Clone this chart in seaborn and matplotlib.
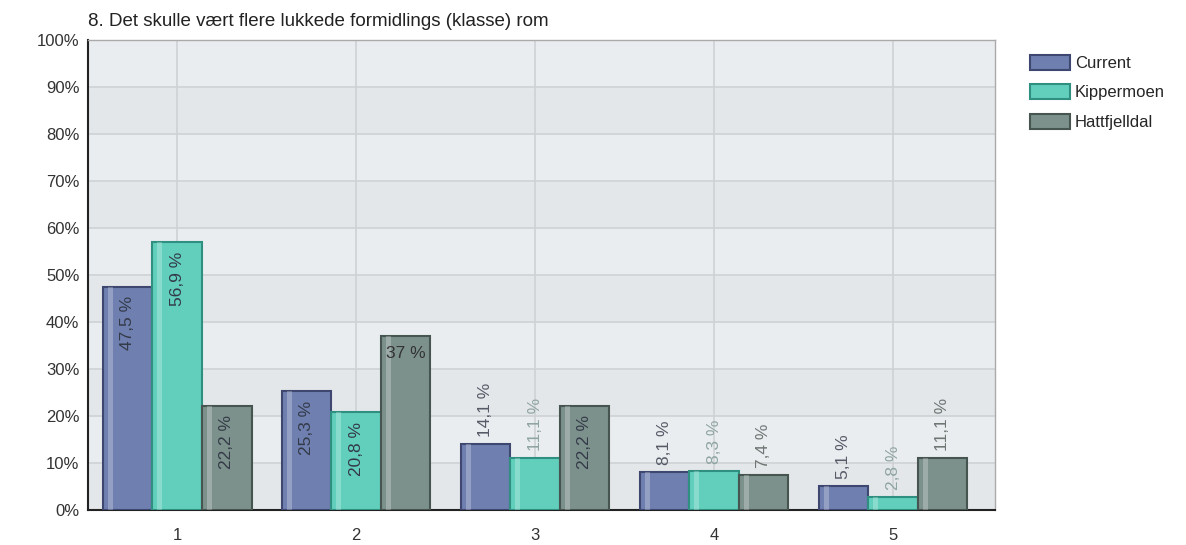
import pandas as pd
import matplotlib.pyplot as plt
import seaborn as sns

# Data
categories = ['1', '2', '3', '4', '5']
series = ['Current', 'Kippermoen', 'Hattfjelldal']
current = [47.5, 25.3, 14.1, 8.1, 5.1]
kippermoen = [56.9, 20.8, 11.1, 8.3, 2.8]
hattfjelldal = [22.2, 37.0, 22.2, 7.4, 11.1]
labels_current = ['47,5 %', '25,3 %', '14,1 %', '8,1 %', '5,1 %']
labels_kipper = ['56,9 %', '20,8 %', '11,1 %', '8,3 %', '2,8 %']
labels_hatt = ['22,2 %', '37 %', '22,2 %', '7,4 %', '11,1 %']

colors = ['#6f7fb0', '#62cfbd', '#7d918c']
edges = ['#3d4770', '#2f8f80', '#46554f']
label_colors = ['#555a66', '#8fa5a0', '#6e7673']

df = pd.DataFrame({
    'cat': categories * 3,
    'series': [s for s in series for _ in categories],
    'value': current + kippermoen + hattfjelldal,
})

sns.set_style('white')
plt.rcParams['font.family'] = ['Liberation Sans', 'DejaVu Sans']

fig = plt.figure(figsize=(11.86, 5.45), dpi=100)
ax = fig.add_axes([0.074, 0.064, 0.765, 0.863])

# banded background
ax.set_facecolor('#e4e7ea')
for i in range(10):
    if i % 2 == 1:
        ax.axhspan(i * 10, i * 10 + 10, color='#eaedf0', zorder=0)

sns.barplot(data=df, x='cat', y='value', hue='series', palette=colors,
            width=0.83, saturation=1, ax=ax, zorder=3, legend=True)

all_labels = [labels_current, labels_kipper, labels_hatt]
for k, cont in enumerate(ax.containers):
    for j, bar in enumerate(cont):
        bar.set_edgecolor(edges[k])
        bar.set_linewidth(1.5)
        # highlight stripe
        x0 = bar.get_x()
        w = bar.get_width()
        h = bar.get_height()
        ax.add_patch(plt.Rectangle((x0 + w * 0.1, 0), w * 0.1, h,
                                   color='white', alpha=0.25, lw=0, zorder=4))
        txt = all_labels[k][j]
        cx = x0 + w / 2
        if txt == '37 %':
            ax.text(cx, h - 2, txt, ha='center', va='top', fontsize=12.5,
                    color='#333333', zorder=5)
        elif h > 20:
            ax.text(cx, h - 2, txt, ha='center', va='top', rotation=90,
                    fontsize=12.5, color='#333a48', zorder=5)
        else:
            ax.text(cx, h + 1.5, txt, ha='center', va='bottom', rotation=90,
                    fontsize=12.5, color=label_colors[k], zorder=5)

ax.set_ylim(0, 100)
ax.set_xlim(-0.5, 4.57)
ax.set_yticks(range(0, 101, 10))
ax.set_yticklabels([f'{v}%' for v in range(0, 101, 10)], fontsize=12, color='#333333')
ax.tick_params(axis='x', labelsize=12, colors='#333333', length=5, width=1.5, pad=8)
ax.tick_params(axis='y', length=0, pad=6)
ax.set_xlabel('')
ax.set_ylabel('')
ax.grid(True, color='#cfd2d5', lw=1.2, zorder=1)
ax.set_axisbelow(True)

for s in ['top', 'right']:
    ax.spines[s].set_color('#aaaaaa')
    ax.spines[s].set_linewidth(1)
for s in ['left', 'bottom']:
    ax.spines[s].set_color('#222222')
    ax.spines[s].set_linewidth(1.5)

ax.text(0.0, 1.02, '8. Det skulle vært flere lukkede formidlings (klasse) rom',
        transform=ax.transAxes, fontsize=13.5, color='#222222', va='bottom')

leg = ax.legend(loc='upper left', bbox_to_anchor=(1.022, 1.0), frameon=False,
                fontsize=12, handlelength=2.4, handleheight=1.0, labelspacing=0.8,
                handletextpad=0.3)
for k, patch in enumerate(leg.get_patches()):
    patch.set_edgecolor(edges[k])
    patch.set_linewidth(1.5)

fig.savefig('out.png', dpi=100)
